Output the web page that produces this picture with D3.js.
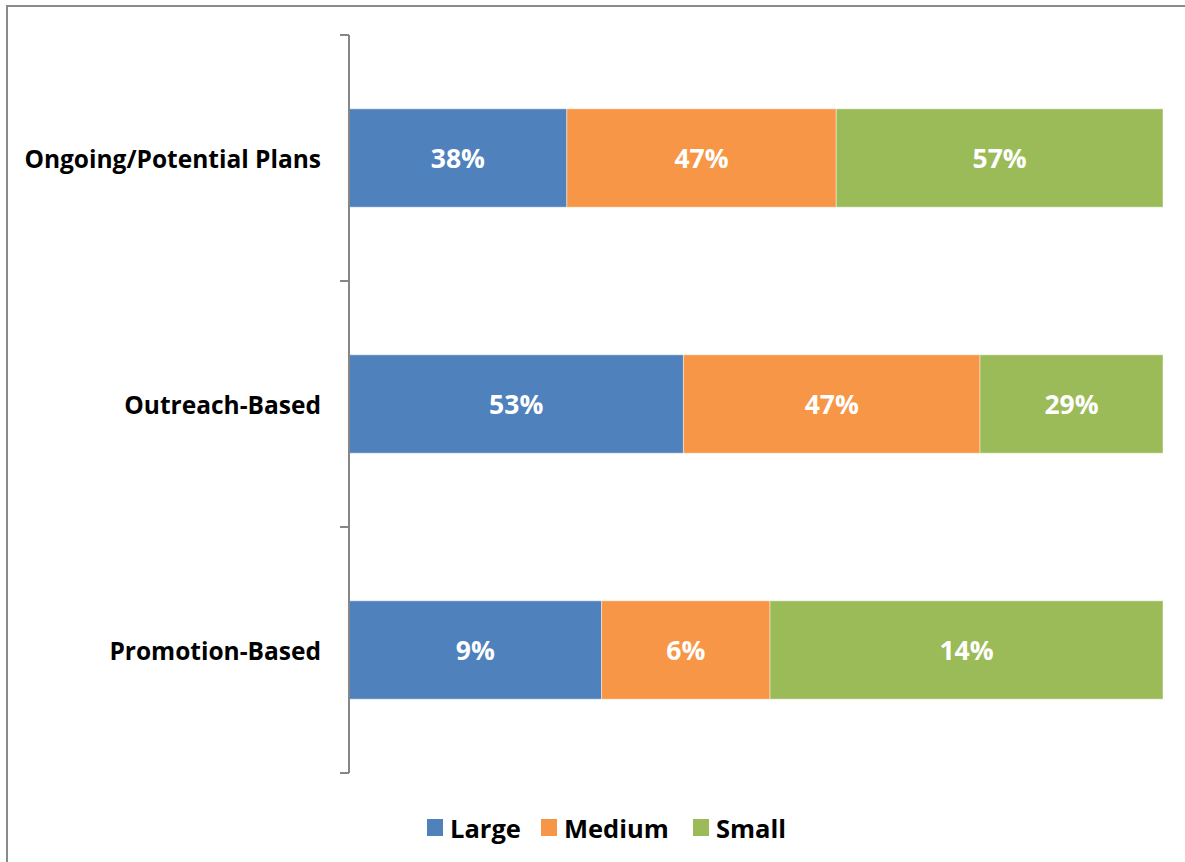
<!DOCTYPE html>
<html>
<head>
<meta charset="utf-8">
<script src="https://cdn.jsdelivr.net/npm/d3@7"></script>
<style>
  html, body { margin: 0; padding: 0; background: #fff; }
  svg { display: block; }
  text { font-family: "Open Sans", Lato, sans-serif; font-weight: bold; }
</style>
</head>
<body>
<svg id="chart" width="1185" height="862"></svg>
<script>
const categories = ["Ongoing/Potential Plans", "Outreach-Based", "Promotion-Based"];
const seriesNames = ["Large", "Medium", "Small"];
const largeValues = [38, 53, 9];
const mediumValues = [47, 47, 6];
const smallValues = [57, 29, 14];
const colors = ["#4F81BD", "#F79646", "#9BBB59"];

const svg = d3.select("#chart");

// outer border
svg.append("rect")
  .attr("x", 7).attr("y", 6).attr("width", 1200).attr("height", 900)
  .attr("fill", "none").attr("stroke", "#8a8a8a").attr("stroke-width", 2);

const rows = categories.map((c, i) => ({
  category: c,
  Large: largeValues[i], Medium: mediumValues[i], Small: smallValues[i]
}));

const stack = d3.stack().keys(seriesNames).offset(d3.stackOffsetExpand);
const layers = stack(rows);

const x = d3.scaleLinear().domain([0, 1]).range([349, 1163]);
const y = d3.scaleBand().domain(categories).range([35, 773]).paddingInner(0.6).paddingOuter(0.3);
const color = d3.scaleOrdinal().domain(seriesNames).range(colors);

const g = svg.append("g");
layers.forEach(layer => {
  const key = layer.key;
  g.selectAll(null).data(layer).enter().append("rect")
    .attr("x", d => x(d[0]))
    .attr("y", d => y(d.data.category))
    .attr("width", d => x(d[1]) - x(d[0]))
    .attr("height", y.bandwidth())
    .attr("fill", color(key))
    .attr("stroke", "rgba(255,255,255,0.45)")
    .attr("stroke-width", 1);
  g.selectAll(null).data(layer).enter().append("text")
    .attr("x", d => (x(d[0]) + x(d[1])) / 2)
    .attr("y", d => y(d.data.category) + y.bandwidth() / 2)
    .attr("text-anchor", "middle")
    .attr("dominant-baseline", "central")
    .attr("fill", "#fff")
    .attr("font-size", 26.5)
    .text(d => d.data[key] + "%");
});

// vertical axis
const step = y.step();
const tickYs = d3.range(categories.length + 1).map(i => y.range()[0] + i * step);
svg.append("line")
  .attr("x1", 349).attr("x2", 349)
  .attr("y1", tickYs[0]).attr("y2", tickYs[tickYs.length - 1])
  .attr("stroke", "#868686").attr("stroke-width", 2);
svg.selectAll(null).data(tickYs).enter().append("line")
  .attr("x1", 340).attr("x2", 349)
  .attr("y1", d => d).attr("y2", d => d)
  .attr("stroke", "#868686").attr("stroke-width", 2);

svg.selectAll(null).data(categories).enter().append("text")
  .attr("x", 321)
  .attr("y", d => y(d) + y.bandwidth() / 2)
  .attr("text-anchor", "end")
  .attr("dominant-baseline", "central")
  .attr("fill", "#000")
  .attr("font-size", 24.5)
  .text(d => d);

// legend
const legendX = [427, 541, 693];
const lg = svg.append("g");
seriesNames.forEach((s, i) => {
  lg.append("rect")
    .attr("x", legendX[i]).attr("y", 819)
    .attr("width", 16).attr("height", 17)
    .attr("fill", colors[i]);
  lg.append("text")
    .attr("x", legendX[i] + 23).attr("y", 828)
    .attr("dominant-baseline", "central")
    .attr("fill", "#000")
    .attr("font-size", 25.5)
    .text(s);
});
</script>
</body>
</html>
